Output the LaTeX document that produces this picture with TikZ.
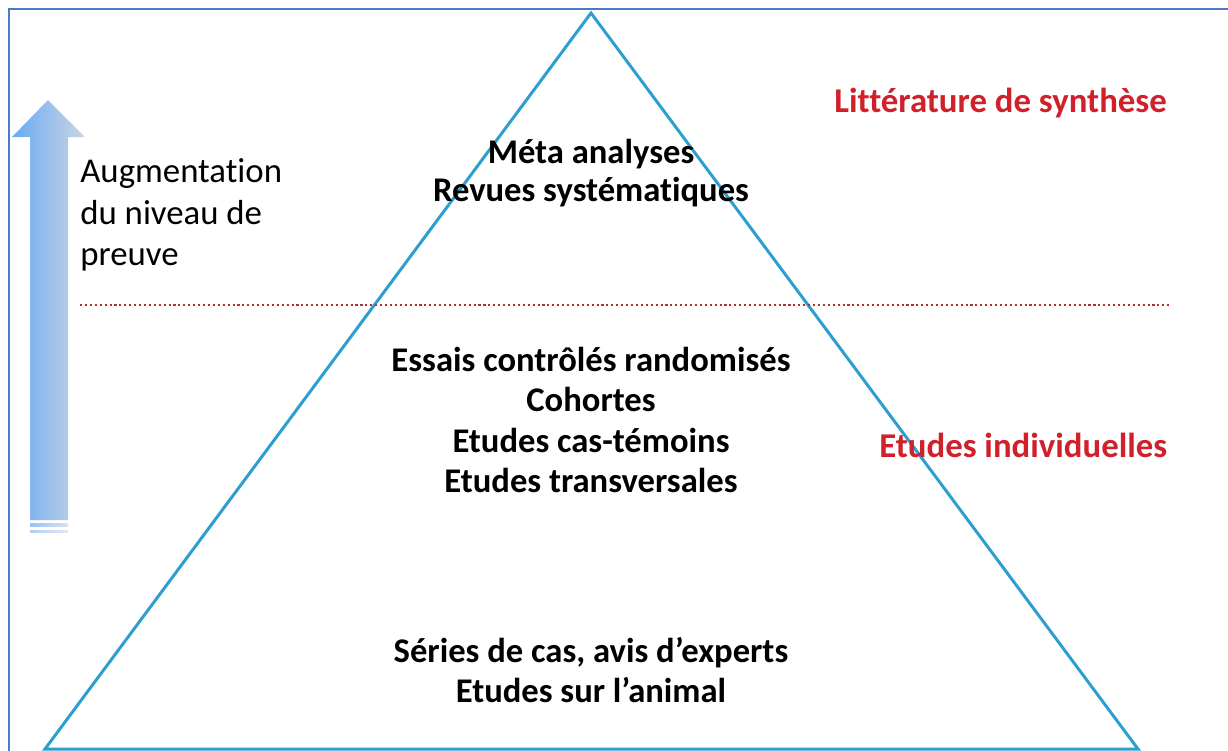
\documentclass[tikz,border=0pt]{standalone}
\usepackage{fontspec}
\setmainfont[Ligatures=NoCommon]{Carlito}
\definecolor{framec}{HTML}{4A7CC4}
\definecolor{pyrc}{HTML}{2C9FD0}
\definecolor{redc}{HTML}{D0202A}
\definecolor{dotc}{HTML}{B03030}
\definecolor{arrowl}{HTML}{6AAAF2}
\definecolor{arrowr}{HTML}{CAD5E4}
\tikzset{
  level/.style={shape=rectangle, draw=none, align=center, inner sep=0pt, font=\bfseries\fontsize{19.7}{23}\selectfont},
  side/.style={shape=rectangle, draw=none, inner sep=0pt, text=redc, font=\bfseries\fontsize{19.8}{23}\selectfont},
}
\begin{document}
\begin{tikzpicture}[x=0.02cm, y=-0.02cm]
%%%%%%%%%%%%%%%%%%%%%%%%%%%%%%%%%%%%%%%%%%% HELP LINES
%\draw[help lines, step=50] (0,0) grid (1228,751);
\useasboundingbox (0,0) rectangle (1228,751);

%%%%%%%%%%%%%%%%%%%%%%%%%%%%%%%%%%%%%%%%%%% frame
\draw[framec, line width=1.6pt] (9,751) -- (9,9) -- (1228,9);

%%%%%%%%%%%%%%%%%%%%%%%%%%%%%%%%%%%%%%%%%%% pyramid
\coordinate (top) at (591,13);
\coordinate (bl) at (45,749);
\coordinate (br) at (1138,749);
\draw[pyrc, line width=1.7pt, line join=miter] (top) -- (br) -- (bl) -- cycle;

%%%%% separation
\coordinate (d1) at (80,305);
\coordinate (d2) at (1170,305);
\draw[dotc, line width=1.1pt, dash pattern=on 1.2pt off 1.6pt] (d1) -- (d2);

%%%%% levels
\node[level, font=\bfseries\fontsize{19.7}{21.5}\selectfont](meta) at (591,173) {M\'eta analyses\\Revues syst\'ematiques};
\node[level](etudes) at (591,420) {Essais contr\^ol\'es randomis\'es\\Cohortes\\Etudes cas-t\'emoins\\Etudes transversales};
\node[level](series) at (591,670) {S\'eries de cas, avis d'experts\\Etudes sur l'animal};

%%%%% categories
\node[side, anchor=west](synth) at (834,103) {Litt\'erature de synth\`ese};
\node[side, anchor=west](indiv) at (879,445) {Etudes individuelles};

%%%%%%%%%%%%%%%%%%%%%%%%%%%%%%%%%%%%%%%%%%% arrow
\shade[left color=arrowl, right color=arrowr] (30,520) -- (30,137) -- (12,137) -- (48,100) -- (85,137) -- (68,137) -- (68,520) -- cycle;
\shade[left color=arrowl!70, right color=arrowr!70] (30,523) rectangle (68,526);
\shade[left color=arrowl!55, right color=arrowr!55] (30,530) rectangle (68,532);
\node[shape=rectangle, draw=none, anchor=north west, align=left, inner sep=0pt, font=\fontsize{19.8}{23.8}\selectfont](augm) at (80,158) {Augmentation\\du niveau de\\preuve};
\end{tikzpicture}
\end{document}
